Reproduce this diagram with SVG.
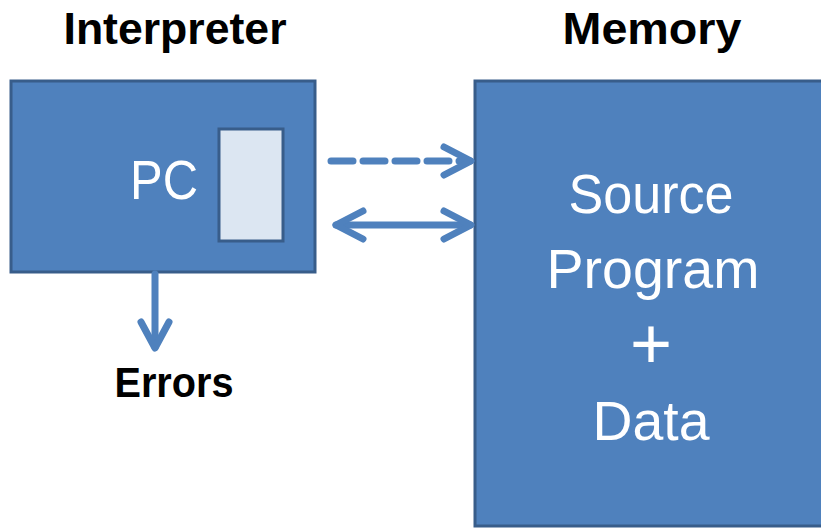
<svg xmlns="http://www.w3.org/2000/svg" width="821" height="528" viewBox="0 0 821 528">
  <style>
    .box { fill: #4F81BD; stroke: #385D8A; stroke-width: 3; }
    .reg { fill: #DCE6F2; stroke: #385D8A; stroke-width: 3; }
    .title { font-family: "Liberation Sans", Arial, sans-serif; font-weight: bold; fill: #000; text-anchor: middle; }
    .inner { font-family: "Liberation Sans", Arial, sans-serif; fill: #FFFFFF; text-anchor: middle; }
    .link { fill: none; stroke: #4F81BD; stroke-width: 7; stroke-linecap: round; stroke-linejoin: round; }
  </style>
  <rect width="821" height="528" fill="#FFFFFF"/>

  <!-- Interpreter block with program counter -->
  <g id="interpreter">
    <text class="title" x="175" y="44" font-size="45" textLength="223" lengthAdjust="spacingAndGlyphs">Interpreter</text>
    <rect class="box" x="11" y="81" width="304" height="191"/>
    <text class="inner" x="164" y="199" font-size="55" textLength="68" lengthAdjust="spacingAndGlyphs">PC</text>
    <rect id="pc-register" class="reg" x="219" y="129" width="64" height="112"/>
  </g>

  <!-- Memory block -->
  <g id="memory">
    <text class="title" x="652" y="44" font-size="45" textLength="179" lengthAdjust="spacingAndGlyphs">Memory</text>
    <rect class="box" x="475" y="81" width="360" height="445"/>
    <text class="inner" x="651" y="213" font-size="55" textLength="165" lengthAdjust="spacingAndGlyphs">Source</text>
    <text class="inner" x="653" y="288" font-size="55" textLength="213" lengthAdjust="spacingAndGlyphs">Program</text>
    <text class="inner" x="651" y="368" font-size="72" font-weight="300">+</text>
    <text class="inner" x="651" y="440" font-size="55" textLength="117" lengthAdjust="spacingAndGlyphs">Data</text>
  </g>

  <!-- Errors label -->
  <g id="errors">
    <text class="title" x="174" y="397" font-size="42" textLength="119" lengthAdjust="spacingAndGlyphs">Errors</text>
  </g>

  <!-- Connectors -->
  <g id="connectors">
    <!-- fetch (dashed) -->
    <path class="link" d="M331 161 H470" stroke-dasharray="22 10" stroke-linecap="butt"/>
    <path class="link" d="M444 147 L471 161 L444 175"/>
    <!-- read / write -->
    <path class="link" d="M336 225 H470"/>
    <path class="link" d="M363 211 L336 225 L363 239"/>
    <path class="link" d="M444 211 L471 225 L444 239"/>
    <!-- error output -->
    <path class="link" d="M155 274 V347" stroke-linecap="butt"/>
    <path class="link" d="M141 322 L155 348 L169 322"/>
  </g>
</svg>
